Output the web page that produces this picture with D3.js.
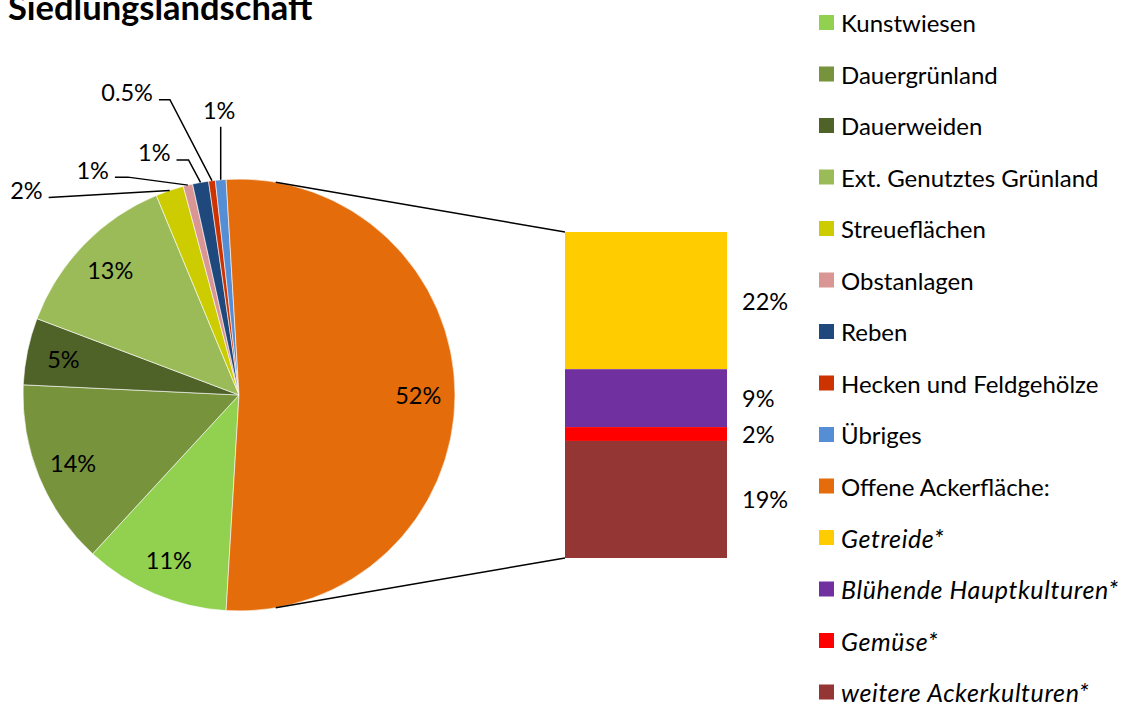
<!DOCTYPE html>
<html>
<head>
<meta charset="utf-8">
<script src="https://cdn.jsdelivr.net/npm/d3@7"></script>
<style>
  body { margin: 0; background: #fff; }
  svg { display: block; font-family: Lato, "Open Sans", sans-serif; }
</style>
</head>
<body>
<svg id="chart" width="1124" height="707"></svg>
<script>
// pie categories (legend order) and shares in %
const pieCats = ['Kunstwiesen', 'Dauergrünland', 'Dauerweiden', 'Ext. Genutztes Grünland',
    'Streueflächen', 'Obstanlagen', 'Reben', 'Hecken und Feldgehölze', 'Übriges', 'Offene Ackerfläche:'];
const pieValues = [10.9, 13.9, 5.0, 13.0, 2.1, 0.7, 1.2, 0.5, 0.8, 51.9];
const pieLabels = ['11%', '14%', '5%', '13%', '2%', '1%', '1%', '0.5%', '1%', '52%'];
const pieColors = ['#92D050', '#77933C', '#4F6228', '#9BBB59', '#CCCC00', '#D99694',
    '#1F497D', '#CC3300', '#558ED5', '#E46C0A'];

// breakdown of "Offene Ackerfläche" (stacked bar)
const barCats = ['Getreide*', 'Blühende Hauptkulturen*', 'Gemüse*', 'weitere Ackerkulturen*'];
const barValues = [21.8, 9.2, 2.2, 18.6];
const barLabels = ['22%', '9%', '2%', '19%'];
const barColors = ['#FFCC00', '#7030A0', '#FF0000', '#943634'];

const svg = d3.select('#chart');

const cx = 239, cy = 395, r = 216;
const labelFont = 23.5;

// title (cut off at the top like the original)
svg.append('text')
    .attr('x', 8)
    .attr('y', 20)
    .attr('font-weight', 'bold')
    .attr('font-size', 34.5)
    .text('Siedlungslandschaft');

// ---- pie ----
const total = d3.sum(pieValues);
const aggShare = pieValues[pieValues.length - 1] / total;
// aggregated slice is centred on the right side (towards the bar)
const startAngle = Math.PI / 2 + aggShare * Math.PI;

const pie = d3.pie()
    .sort(null)
    .value(d => d)
    .startAngle(startAngle)
    .endAngle(startAngle + 2 * Math.PI);

const arcs = pie(pieValues);
const arc = d3.arc().innerRadius(0).outerRadius(r);

const gPie = svg.append('g').attr('transform', `translate(${cx},${cy})`);

gPie.selectAll('path.slice')
    .data(arcs)
    .enter().append('path')
    .attr('class', 'slice')
    .attr('d', arc)
    .attr('fill', (d, i) => pieColors[i])
    .attr('stroke', '#fff')
    .attr('stroke-width', 0.6);

const pointAt = (angle, rad) => [rad * Math.sin(angle), -rad * Math.cos(angle)];
const midAngle = d => (d.startAngle + d.endAngle) / 2;

// labels inside the big slices
const insideIdx = [0, 1, 2, 3, 9];
gPie.selectAll('text.inside')
    .data(insideIdx)
    .enter().append('text')
    .attr('class', 'inside')
    .attr('x', i => pointAt(midAngle(arcs[i]), r * 0.83)[0])
    .attr('y', i => pointAt(midAngle(arcs[i]), r * 0.83)[1])
    .attr('text-anchor', 'middle')
    .attr('dominant-baseline', 'central')
    .attr('font-size', labelFont)
    .text(i => pieLabels[i]);

// callout labels for the small slices: leader start relative to the slice edge, elbow length
const callouts = [
    { i: 4, dx: -121, dy: 7, elbow: 0 },
    { i: 5, dx: -73, dy: -8, elbow: 13 },
    { i: 6, dx: -24, dy: -22.5, elbow: 12 },
    { i: 7, dx: -53, dy: -81, elbow: 11 },
    { i: 8, dx: 0, dy: -53, elbow: 0, above: true }
];

callouts.forEach(c => {
    const a = pointAt(midAngle(arcs[c.i]), r);
    const s = [a[0] + c.dx, a[1] + c.dy];
    const pts = [s];
    if (c.elbow) pts.push([s[0] + c.elbow, s[1]]);
    pts.push(a);
    gPie.append('path')
        .attr('d', d3.line()(pts))
        .attr('fill', 'none')
        .attr('stroke', '#000')
        .attr('stroke-width', 1.5);
    const t = gPie.append('text')
        .attr('font-size', labelFont)
        .attr('dominant-baseline', 'central')
        .text(pieLabels[c.i]);
    if (c.above) {
        t.attr('x', s[0] - 1.5).attr('y', s[1] - 17).attr('text-anchor', 'middle');
    } else {
        t.attr('x', s[0] - 6).attr('y', s[1] - 7.5).attr('text-anchor', 'end');
    }
});

// ---- stacked bar ----
const barX = 565, barW = 162, barTop = 232, barBottom = 558;
const barTotal = d3.sum(barValues);
const yBar = d3.scaleLinear().domain([0, barTotal]).range([barTop, barBottom]);
const stackStart = d3.cumsum([0].concat(barValues));

svg.selectAll('rect.seg')
    .data(barValues)
    .enter().append('rect')
    .attr('class', 'seg')
    .attr('x', barX)
    .attr('width', barW)
    .attr('y', (d, i) => yBar(stackStart[i]))
    .attr('height', d => yBar(d) - yBar(0))
    .attr('fill', (d, i) => barColors[i]);

svg.selectAll('text.seg')
    .data(barValues)
    .enter().append('text')
    .attr('class', 'seg')
    .attr('x', barX + barW + 15)
    .attr('y', (d, i) => yBar(stackStart[i] + d / 2))
    .attr('dominant-baseline', 'central')
    .attr('font-size', labelFont)
    .text((d, i) => barLabels[i]);

// series lines: tangents from the bar corners to the pie
function tangentPoint(px, py, side) {
    const dx = px - cx, dy = py - cy;
    const d = Math.hypot(dx, dy);
    const base = Math.atan2(dx, -dy);
    const off = Math.acos(r / d);
    const ang = base + side * off;
    return [cx + r * Math.sin(ang), cy - r * Math.cos(ang)];
}
[[barTop, -1], [barBottom, 1]].forEach(([yy, side]) => {
    const tp = tangentPoint(barX, yy, side);
    svg.append('line')
        .attr('x1', tp[0]).attr('y1', tp[1])
        .attr('x2', barX).attr('y2', yy)
        .attr('stroke', '#000')
        .attr('stroke-width', 1.5);
});

// ---- legend ----
const legendItems = pieCats.map((c, i) => ({ name: c, color: pieColors[i], italic: false }))
    .concat(barCats.map((c, i) => ({ name: c, color: barColors[i], italic: true })));

const yLegend = d3.scalePoint()
    .domain(d3.range(legendItems.length))
    .range([22.5, 692]);

const lg = svg.append('g')
    .selectAll('g')
    .data(legendItems)
    .enter().append('g')
    .attr('transform', (d, i) => `translate(819,${yLegend(i)})`);

lg.append('rect')
    .attr('x', 0).attr('y', -7.5)
    .attr('width', 15).attr('height', 15)
    .attr('fill', d => d.color);

lg.append('text')
    .attr('x', 22)
    .attr('dominant-baseline', 'central')
    .attr('font-size', d => d.italic ? 25 : 24)
    .attr('letter-spacing', d => d.italic ? 0.6 : 0)
    .attr('font-style', d => d.italic ? 'italic' : 'normal')
    .text(d => d.name);
</script>
</body>
</html>
